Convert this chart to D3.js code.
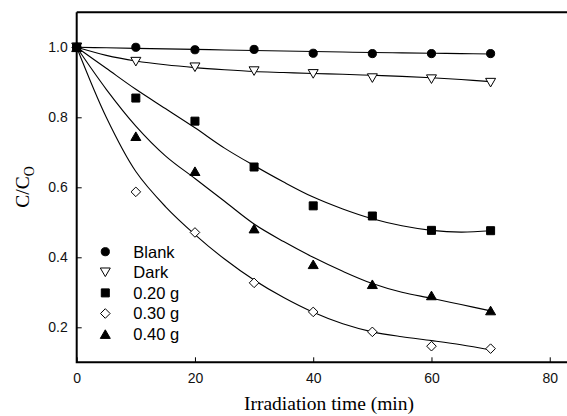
<!DOCTYPE html>
<html>
<head>
<meta charset="utf-8">
<script src="https://cdn.jsdelivr.net/npm/d3@7"></script>
<style>
  body { margin: 0; background: #fff; }
  svg { display: block; }
</style>
</head>
<body>
<svg id="svg" width="567" height="416"></svg>
<script>
// measured points
const times = [0, 10, 20, 30, 40, 50, 60, 70];
const blank = [1.0, 1.0, 0.993, 0.994, 0.983, 0.982, 0.982, 0.982];
const dark = [1.0, 0.959, 0.943, 0.932, 0.924, 0.912, 0.909, 0.899];
const g020 = [1.0, 0.855, 0.789, 0.658, 0.547, 0.518, 0.477, 0.476];
const g030 = [1.0, 0.587, 0.471, 0.327, 0.244, 0.187, 0.146, 0.139];
const g040 = [1.0, 0.746, 0.646, 0.482, 0.380, 0.323, 0.291, 0.248];

// fitted curves
const fitTimes = [0, 5, 10, 15, 20, 25, 30, 35, 40, 45, 50, 55, 60, 65, 70];
const fitBlank = [1.0, 0.9985, 0.997, 0.9955, 0.994, 0.9925, 0.991, 0.9895, 0.988, 0.9865, 0.985, 0.984, 0.983, 0.982, 0.981];
const fitDark = [1.0, 0.977, 0.961, 0.95, 0.942, 0.936, 0.931, 0.928, 0.925, 0.923, 0.92, 0.917, 0.913, 0.908, 0.902];
const fit020 = [1.0, 0.94, 0.88, 0.825, 0.77, 0.712, 0.662, 0.615, 0.572, 0.538, 0.51, 0.49, 0.477, 0.472, 0.476];
const fit030 = [1.0, 0.80, 0.645, 0.545, 0.465, 0.395, 0.335, 0.285, 0.243, 0.21, 0.187, 0.173, 0.162, 0.15, 0.135];
const fit040 = [1.0, 0.88, 0.775, 0.69, 0.625, 0.56, 0.495, 0.445, 0.40, 0.36, 0.325, 0.30, 0.283, 0.265, 0.247];

const xTicks = [0, 20, 40, 60, 80];
const yTicks = [0.2, 0.4, 0.6, 0.8, 1.0];
const labels = ["Blank", "Dark", "0.20 g", "0.30 g", "0.40 g"];

const svg = d3.select("#svg");
const plotLeft = 76.7, plotRight = 579.3, plotTop = 12.3, plotBottom = 362.3;

const x = d3.scaleLinear().domain([0, 85]).range([plotLeft, plotRight]);
const y = d3.scaleLinear().domain([0.1, 1.1]).range([plotBottom, plotTop]);

// marker shapes, all centred on their box
function markerPath(kind) {
  switch (kind) {
    case "circle": return d3.symbol(d3.symbolCircle, 52)();
    case "square": return "M-4,-4H4V4H-4Z";
    case "diamond": return "M0,-4.8L4.8,0L0,4.8L-4.8,0Z";
    case "up": return "M0,-4.3L5,4.3L-5,4.3Z";
    case "down": return "M0,4.3L5,-4.3L-5,-4.3Z";
  }
}

const series = [
  { name: labels[0], values: blank, fit: fitBlank, kind: "circle", fill: "#000" },
  { name: labels[1], values: dark, fit: fitDark, kind: "down", fill: "#fff" },
  { name: labels[2], values: g020, fit: fit020, kind: "square", fill: "#000" },
  { name: labels[3], values: g030, fit: fit030, kind: "diamond", fill: "#fff" },
  { name: labels[4], values: g040, fit: fit040, kind: "up", fill: "#000" }
];

// fit lines
const line = d3.line()
  .x(d => x(d[0]))
  .y(d => y(d[1]))
  .curve(d3.curveCatmullRom.alpha(0.5));

svg.append("g")
  .selectAll("path")
  .data(series)
  .join("path")
  .attr("d", s => line(fitTimes.map((t, i) => [t, s.fit[i]])))
  .attr("fill", "none")
  .attr("stroke", "#000")
  .attr("stroke-width", 1.1);

// markers (open ones first so the filled ones sit on top at t=0)
const drawOrder = [series[1], series[3], series[0], series[2], series[4]];
const pts = svg.append("g");
drawOrder.forEach(s => {
  pts.append("g").selectAll("path")
    .data(times.map((t, i) => [t, s.values[i]]))
    .join("path")
    .attr("transform", d => `translate(${x(d[0])},${y(d[1])})`)
    .attr("d", markerPath(s.kind))
    .attr("fill", s.fill)
    .attr("stroke", "#000")
    .attr("stroke-width", 1);
});

// frame: left, top, bottom
svg.append("path")
  .attr("d", `M${plotLeft},${plotTop}V${plotBottom}H567M${plotLeft},${plotTop}H567`)
  .attr("fill", "none")
  .attr("stroke", "#000")
  .attr("stroke-width", 2);

// axes with inward ticks
const xAxis = svg.append("g")
  .attr("transform", `translate(0,${plotBottom})`)
  .call(d3.axisBottom(x).tickValues(xTicks).tickSizeInner(-5).tickSizeOuter(0).tickPadding(11));
const yAxis = svg.append("g")
  .attr("transform", `translate(${plotLeft},0)`)
  .call(d3.axisLeft(y).tickValues(yTicks).tickFormat(d3.format(".1f")).tickSizeInner(-5).tickSizeOuter(0).tickPadding(9));

[xAxis, yAxis].forEach(a => {
  a.select(".domain").remove();
  a.selectAll("line").attr("stroke", "#000").attr("stroke-width", 1);
  a.selectAll("text")
    .attr("font-family", "'Liberation Sans', Arial, sans-serif")
    .attr("font-size", 14)
    .attr("fill", "#111");
});

// axis titles
svg.append("text")
  .attr("x", 329)
  .attr("y", 410)
  .attr("text-anchor", "middle")
  .attr("font-family", "'Liberation Serif', 'Times New Roman', serif")
  .attr("font-size", 19.5)
  .attr("fill", "#000")
  .text("Irradiation time (min)");

const yTitle = svg.append("text")
  .attr("transform", "translate(29,187) rotate(-90)")
  .attr("text-anchor", "middle")
  .attr("font-family", "'Liberation Serif', 'Times New Roman', serif")
  .attr("font-size", 19.5)
  .attr("fill", "#000");
yTitle.append("tspan").text("C/C");
yTitle.append("tspan").attr("font-size", 14).attr("dy", 5).text("O");

// legend
const legend = svg.append("g");
series.forEach((s, i) => {
  const ly = 251.7 + i * 20.6;
  legend.append("path")
    .attr("transform", `translate(105.3,${ly})`)
    .attr("d", markerPath(s.kind))
    .attr("fill", s.fill)
    .attr("stroke", "#000")
    .attr("stroke-width", 1);
  legend.append("text")
    .attr("x", 133.3)
    .attr("y", ly + 5.8)
    .attr("font-family", "'Liberation Sans', Arial, sans-serif")
    .attr("font-size", 16.5)
    .attr("fill", "#000")
    .text(s.name);
});
</script>
</body>
</html>
